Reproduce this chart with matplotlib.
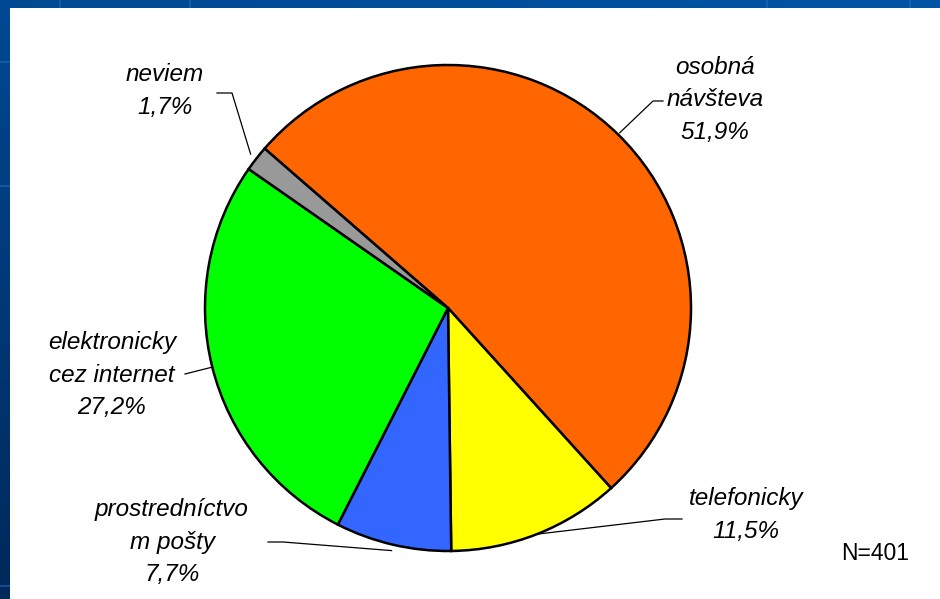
import numpy as np
import matplotlib
matplotlib.use("Agg")
from matplotlib import pyplot as plt

# podiel odpovedí
kategorie = ["osobná\nnávšteva", "telefonicky", "prostredníctvo\nm pošty",
             "elektronicky\ncez internet", "neviem"]
hodnoty = [51.9, 11.5, 7.7, 27.2, 1.7]
farby = ["#FF6600", "#FFFF00", "#3366FF", "#00FF00", "#999999"]
pocet = 401

W, H = 940, 599
fig = plt.figure(figsize=(W / 100, H / 100), dpi=100)

# modre pozadie snimky s jemnou mriezkou
bg = fig.add_axes([0, 0, 1, 1])
yy, xx = np.mgrid[0:1:200j, 0:1:300j]
t = np.clip(0.75 * yy + 0.25 * (1 - xx), 0, 1)
top = np.array([0, 84, 166]) / 255
bot = np.array([0, 40, 90]) / 255
grad = top[None, None, :] * (1 - t[..., None]) + bot[None, None, :] * t[..., None]
bg.imshow(grad, extent=[0, W, H, 0], aspect="auto")
for gx in [60, 190, 767, 910]:
    bg.plot([gx, gx], [0, H], color="#2a6fc0", lw=1.5, alpha=0.5)
for gy in [62, 186, 586]:
    bg.plot([0, W], [gy, gy], color="#2a6fc0", lw=1.5, alpha=0.5)
bg.set_xlim(0, W)
bg.set_ylim(H, 0)
bg.axis("off")

# biely panel s grafom
ax = fig.add_axes([10 / W, 0, 1 - 10 / W, (H - 8) / H])
ax.set_facecolor("white")

cx, cy, r = 448, H - 308, 243
wedges, _ = ax.pie(hodnoty, colors=farby, startangle=139, counterclock=False,
                   center=(cx, cy), radius=r, frame=True,
                   wedgeprops=dict(edgecolor="black", linewidth=1.8))
ax.set_xlim(10, W)
ax.set_ylim(0, H - 8)
ax.set_aspect("equal")
ax.set_xticks([])
ax.set_yticks([])
for s in ax.spines.values():
    s.set_visible(False)

font = dict(family="Liberation Sans", style="italic", fontsize=17.5,
            ha="center", va="center", linespacing=1.55)

# pozicie popisov a zalomenia odkazovych ciar
popisy = [
    ((715, 100), [(653, 101), (663, 101)], 1.01),
    ((746, 515), [(665, 519), (682, 519)], 1.0),
    ((172, 542), [(283, 542), (268, 542)], 1.025),
    ((112, 375), [(185, 374)], 1.0),
    ((165, 91), [(232, 93), (217, 93)], 1.03),
]

for w, nazov, hod, (pos, body, rr) in zip(wedges, kategorie, hodnoty, popisy):
    ang = np.deg2rad((w.theta1 + w.theta2) / 2)
    ex, ey = cx + rr * r * np.cos(ang), cy + rr * r * np.sin(ang)
    xs = [ex] + [p[0] for p in body]
    ys = [ey] + [H - p[1] for p in body]
    ax.plot(xs, ys, color="black", lw=0.9)
    txt = nazov + "\n" + f"{hod:.1f}%".replace(".", ",")
    ax.text(pos[0], H - pos[1], txt, **font)

ax.text(875, H - 553, f"N={pocet}", family="Liberation Sans", fontsize=16.5,
        ha="center", va="center")

fig.savefig("out.png", dpi=100)
